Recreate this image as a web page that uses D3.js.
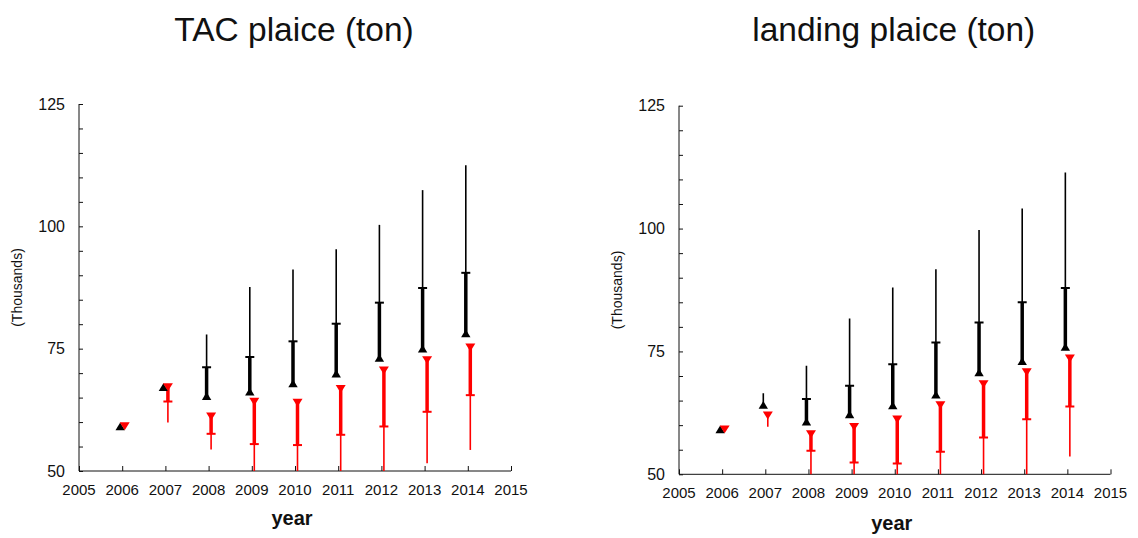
<!DOCTYPE html>
<html>
<head>
<meta charset="utf-8">
<script src="https://cdn.jsdelivr.net/npm/d3@7"></script>
<style>
  html, body { margin: 0; padding: 0; background: #fff; }
  svg { display: block; }
  text { font-family: "Liberation Sans", Arial, sans-serif; fill: #111; }
</style>
</head>
<body>
<svg id="chart" width="1138" height="538"></svg>
<script>
// ---------------- DATA ----------------
const years = [2006, 2007, 2008, 2009, 2010, 2011, 2012, 2013, 2014];
const yTicks = [50, 75, 100, 125];
const xTicks = [2005, 2006, 2007, 2008, 2009, 2010, 2011, 2012, 2013, 2014, 2015];

// TAC plaice (thousand tons)
const tacBlackPoint = [59.0, 67.0, 65.2, 66.1, 67.8, 69.8, 73.0, 74.9, 78.0];
const tacBlackMid   = [null, null, 71.2, 73.3, 76.5, 80.1, 84.4, 87.4, 90.5];
const tacBlackHigh  = [null, null, 77.9, 87.6, 91.2, 95.3, 100.3, 107.4, 112.5];
const tacRedPoint   = [59.2, 67.2, 61.2, 64.2, 64.0, 66.8, 70.6, 72.7, 75.3];
const tacRedMid     = [null, 64.2, 57.6, 55.5, 55.3, 57.4, 59.1, 62.1, 65.5];
const tacRedLow     = [null, 59.9, 54.4, 48.0, 48.0, 48.0, 48.0, 51.6, 54.3];

// Landing plaice (thousand tons)
const landBlackPoint = [59.0, 64.0, 60.6, 62.1, 63.9, 66.1, 70.6, 72.9, 75.8];
const landBlackMid   = [null, null, 65.3, 68.0, 72.4, 76.8, 80.9, 85.0, 87.9];
const landBlackHigh  = [null, 66.5, 72.1, 81.7, 88.0, 91.7, 99.7, 104.1, 111.4];
const landRedPoint   = [59.2, 62.0, 58.2, 59.7, 61.2, 64.1, 68.4, 70.8, 73.6];
const landRedMid     = [null, null, 54.8, 52.4, 52.2, 54.6, 57.5, 61.2, 63.8];
const landRedLow     = [null, 59.7, 48.0, 48.0, 48.0, 48.0, 48.0, 48.0, 53.6];

// ---------------- DRAW ----------------
const svg = d3.select("#chart");

const panels = [
  { title: "TAC plaice (ton)", xr: [79, 511], yr: [471, 104],
    bp: tacBlackPoint, bm: tacBlackMid, bh: tacBlackHigh,
    rp: tacRedPoint, rm: tacRedMid, rl: tacRedLow, yearY: 525 },
  { title: "landing plaice (ton)", xr: [679, 1110.5], yr: [474.3, 105.7],
    bp: landBlackPoint, bm: landBlackMid, bh: landBlackHigh,
    rp: landRedPoint, rm: landRedMid, rl: landRedLow, yearY: 530 }
];

panels.forEach((p, pi) => {
  const x = d3.scaleLinear().domain([2005, 2015]).range(p.xr);
  const y = d3.scaleLinear().domain([50, 125]).range(p.yr);
  const g = svg.append("g");

  const clipId = "clip" + pi;
  svg.append("clipPath").attr("id", clipId).append("rect")
    .attr("x", p.xr[0]).attr("y", p.yr[1] - 20)
    .attr("width", p.xr[1] - p.xr[0] + 10).attr("height", p.yr[0] - p.yr[1] + 20);

  // title
  g.append("text").attr("x", (p.xr[0] + p.xr[1]) / 2 - 1).attr("y", 41)
    .attr("text-anchor", "middle").style("font-size", "33.5px").text(p.title);

  // y axis (ticks inside, to the right)
  const yAxis = d3.axisRight(y).tickValues(d3.range(50, 126, 5)).tickSize(4)
    .tickFormat(() => "");
  const ya = g.append("g").attr("transform", `translate(${p.xr[0]},0)`).call(yAxis);
  ya.select(".domain").attr("d", `M0,${p.yr[1]}H0V${p.yr[0]}`);
  ya.selectAll("line, path").attr("stroke", "#111");
  g.selectAll(".ylab").data(yTicks).join("text")
    .attr("x", p.xr[0] - 14).attr("y", d => y(d) + 5.5)
    .attr("text-anchor", "end").style("font-size", "16px").text(d => d);

  // x axis (ticks inside, pointing up)
  const xAxis = d3.axisTop(x).tickValues(xTicks).tickSize(5).tickFormat(() => "");
  const xa = g.append("g").attr("transform", `translate(0,${p.yr[0]})`).call(xAxis);
  xa.select(".domain").attr("d", `M${p.xr[0]},0H${p.xr[1]}`);
  xa.selectAll("line, path").attr("stroke", "#111");
  g.selectAll(".xlab").data(xTicks).join("text")
    .attr("x", d => x(d)).attr("y", p.yr[0] + 23.5)
    .attr("text-anchor", "middle").style("font-size", "15px").text(d => d);

  // axis titles
  const ymid = (p.yr[0] + p.yr[1]) / 2;
  g.append("text")
    .attr("transform", `translate(${p.xr[0] - 57},${ymid}) rotate(-90)`)
    .attr("text-anchor", "middle").style("font-size", "14px").text("(Thousands)");
  g.append("text").attr("x", (p.xr[0] + p.xr[1]) / 2 - 3).attr("y", p.yearY)
    .attr("text-anchor", "middle").style("font-size", "20px").style("font-weight", "bold")
    .text("year");

  const plot = g.append("g").attr("clip-path", `url(#${clipId})`);
  const bOff = -2, rOff = 2.5;

  function bar(cx, pt, mid, ext, col) {
    if (ext == null) return;
    const thinFrom = mid == null ? pt : mid;
    plot.append("line").attr("x1", cx).attr("x2", cx)
      .attr("y1", y(thinFrom)).attr("y2", y(ext))
      .attr("stroke", col).attr("stroke-width", 1.6);
    if (mid != null) {
      plot.append("line").attr("x1", cx).attr("x2", cx)
        .attr("y1", y(pt)).attr("y2", y(mid))
        .attr("stroke", col).attr("stroke-width", 3.5);
      plot.append("line").attr("x1", cx - 4.5).attr("x2", cx + 4.5)
        .attr("y1", y(mid)).attr("y2", y(mid))
        .attr("stroke", col).attr("stroke-width", 2);
    }
  }

  years.forEach((yr, i) => {
    bar(x(yr) + bOff, p.bp[i], p.bm[i], p.bh[i], "#000");
    bar(x(yr) + rOff, p.rp[i], p.rm[i], p.rl[i], "#f00");
  });

  // markers
  plot.selectAll(".bm").data(years).join("path")
    .attr("d", "M0,-4.5L4.7,3.3L-4.7,3.3Z")
    .attr("transform", (d, i) => `translate(${x(d) + bOff},${y(p.bp[i])})`)
    .attr("fill", "#000");
  plot.selectAll(".rm").data(years).join("path")
    .attr("d", "M-5,-3.7L5,-3.7L0,4.2Z")
    .attr("transform", (d, i) => `translate(${x(d) + rOff},${y(p.rp[i])})`)
    .attr("fill", "#f00");
});
</script>
</body>
</html>
